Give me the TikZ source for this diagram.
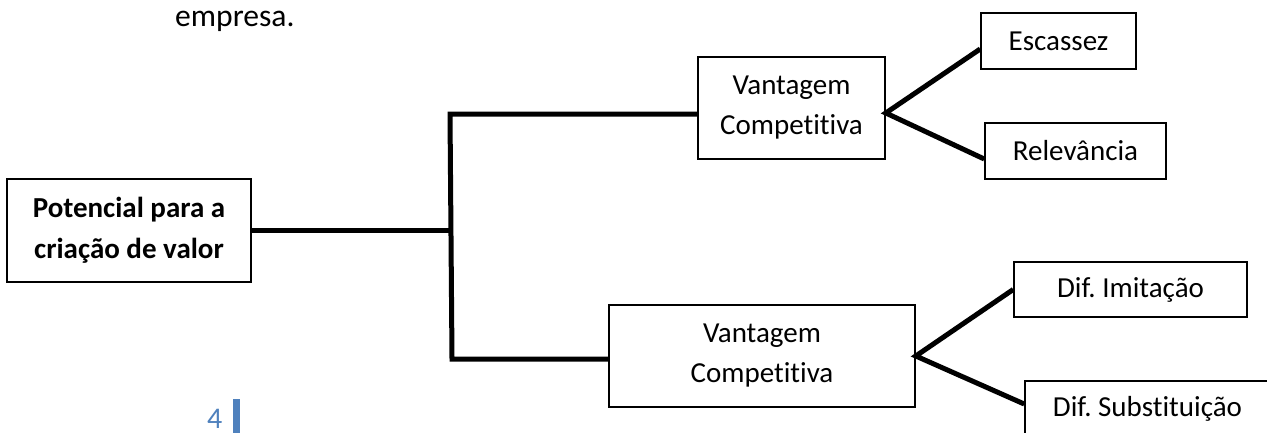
\documentclass[tikz,border=0pt]{standalone}
\usepackage{fontspec}
\setmainfont{Carlito}[Ligatures=NoCommon]
\usetikzlibrary{calc}
\definecolor{pageblue}{RGB}{79,129,189}
\frenchspacing
\begin{document}
\begin{tikzpicture}[x=1pt,y=-1pt,
  box/.style={draw=black, line width=1.6pt, inner sep=0pt, align=center,
    font=\fontsize{29}{40}\selectfont},
  conn/.style={line width=5pt, line join=miter},
]
\useasboundingbox (0,0) rectangle (1267,432);
\clip (0,0) rectangle (1267,432);

% running text and page number
\node[anchor=base west, inner sep=0pt, font=\fontsize{31.6}{38}\selectfont] (txt) at (175,26) {empresa.};
\node[anchor=base west, inner sep=0pt, text=pageblue, font=\fontsize{30}{36}\selectfont] (pnum) at (207,428) {4};
\fill[pageblue] (233,399) rectangle (240,440);

% boxes
\node[box, minimum width=244, minimum height=103,
  font=\bfseries\fontsize{29}{41}\selectfont] (pot) at (129,230.5) {Potencial para a\\criação de valor};
\node[box, minimum width=187, minimum height=102] (v1) at (791.5,108) {Vantagem\\Competitiva};
\node[box, minimum width=306, minimum height=102] (v2) at (762,356) {Vantagem\\Competitiva};
\node[box, minimum width=155, minimum height=56] (esc) at (1058.5,41) {Escassez};
\node[box, minimum width=181, minimum height=56] (rel) at (1075.5,151) {Relevância};
\node[box, minimum width=233, minimum height=55] (imi) at (1130.5,289.5) {Dif. Imitação};
\node[box, minimum width=245, minimum height=56] (sub) at (1147.5,409) {Dif. Substituição};

% bracket joining the root to both branches
\coordinate (jt) at (450,114);
\coordinate (jb) at (452,359);
\draw[conn] (pot.east) -- (pot.east -| jt);
\draw[conn] (jt -| v1.west) -- ([xshift=-2.5pt]jt) -- (jt) -- (jb) -- (jb -| v2.west);

% fan-out to the leaves
\draw[conn] ([yshift=-8pt]esc.west) -- ([yshift=-5pt]v1.east) -- ([yshift=-8pt]rel.west);
\draw[conn] (imi.west) -- (v2.east) -- ([yshift=5pt]sub.west);
\end{tikzpicture}
\end{document}
